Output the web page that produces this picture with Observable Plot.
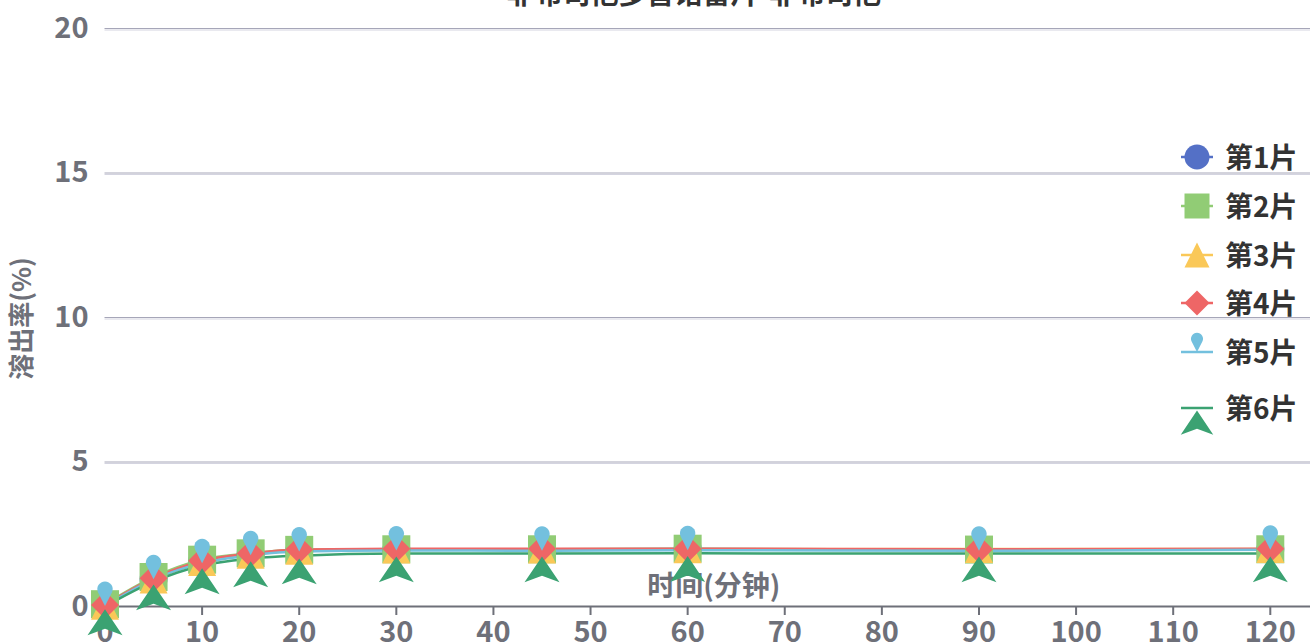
<!DOCTYPE html>
<html><head><meta charset="utf-8">
<script src="https://cdn.jsdelivr.net/npm/d3@7"></script>
<script src="https://cdn.jsdelivr.net/npm/@observablehq/plot@0.6"></script>
<style>
html,body{margin:0;padding:0;background:#fff;overflow:hidden;}
#wrap{position:relative;width:1310px;height:644px;}
#legend{position:absolute;left:0;top:0;pointer-events:none;}
</style></head><body>
<div id="wrap"><div id="chart"></div><svg id="legend" width="1310" height="644"></svg></div>
<script>
// ---- data ----
const title = "非布司他多替诺雷片-非布司他";
const xTitle = "时间(分钟)";
const yTitle = "溶出率(%)";
const times = [0, 5, 10, 15, 20, 30, 45, 60, 90, 120];
const seriesNames = ["第1片", "第2片", "第3片", "第4片", "第5片", "第6片"];
const s1 = [0.05, 0.95, 1.56, 1.80, 1.93, 1.97, 1.97, 1.99, 1.97, 1.98];
const s2 = [0.08, 1.02, 1.62, 1.84, 1.96, 1.98, 1.98, 2.00, 1.97, 1.98];
const s3 = [0.03, 0.93, 1.54, 1.79, 1.93, 1.97, 1.97, 1.98, 1.99, 1.99];
const s4 = [0.05, 0.98, 1.58, 1.83, 1.97, 2.00, 2.00, 2.00, 1.98, 2.00];
const s5 = [0.02, 0.94, 1.50, 1.77, 1.90, 1.94, 1.93, 1.95, 1.93, 1.96];
const s6 = [0.00, 0.86, 1.42, 1.66, 1.76, 1.83, 1.83, 1.84, 1.83, 1.83];
const xTicks = [0, 10, 20, 30, 40, 50, 60, 70, 80, 90, 100, 110, 120];
const yTicks = [0, 5, 10, 15, 20];

// ---- styles ----
const colors = ["#5470c6", "#91cc75", "#fac858", "#ee6666", "#73c0de", "#3ba272"];
const FONT = '"Noto Sans CJK SC","Noto Sans",sans-serif';
const axisColor = "#6E7079";

// custom symbols: r = sqrt(size/PI)
const R = (size) => Math.sqrt(size / Math.PI);
const symCircle = {draw(c, size) { const r = R(size); c.moveTo(r, 0); c.arc(0, 0, r, 0, 2 * Math.PI); c.closePath(); }};
const symRect = {draw(c, size) { const r = R(size); c.rect(-r, -r, 2 * r, 2 * r); }};
const symTriangle = {draw(c, size) { const r = R(size); c.moveTo(0, -r); c.lineTo(r, r); c.lineTo(-r, r); c.closePath(); }};
const symDiamond = {draw(c, size) { const r = R(size); c.moveTo(0, -r); c.lineTo(r, 0); c.lineTo(0, r); c.lineTo(-r, 0); c.closePath(); }};
const symPin = {draw(c, size) {
  const r = R(size); const hc = 1.2 * r, rh = 0.55 * r;
  const phi = Math.acos(rh / hc);
  const a1 = Math.PI / 2 + phi, a2 = Math.PI / 2 - phi + 2 * Math.PI;
  c.moveTo(0, 0);
  c.lineTo(rh * Math.cos(a1), -hc + rh * Math.sin(a1));
  c.arc(0, -hc, rh, a1, a2);
  c.closePath();
}};
const symArrow = {draw(c, size) {
  const r = R(size); const top = 0.2 * r, H = 1.85 * r, hw = 1.25 * r;
  c.moveTo(0, top); c.lineTo(hw, top + H); c.lineTo(0, top + 0.75 * H); c.lineTo(-hw, top + H); c.closePath();
}};
const symbols = [symCircle, symRect, symTriangle, symDiamond, symPin, symArrow];

const allSeries = [s1, s2, s3, s4, s5, s6];
const tables = allSeries.map((vals, i) => times.map((t, j) => ({t, v: vals[j], name: seriesNames[i]})));

const marks = [
  Plot.ruleY(yTicks.slice(1), {stroke: "#a6a6b8", strokeWidth: 1}),
  Plot.ruleY(yTicks.slice(1), {stroke: "#d4d4e0", strokeWidth: 1, dy: 1.5}),
  Plot.ruleY([0], {stroke: axisColor, strokeWidth: 2}),
  Plot.axisX(xTicks, {tickSize: 9, tickPadding: 6, color: axisColor, strokeWidth: 2, fontSize: 29, fontWeight: "bold", label: null}),
  Plot.axisY(yTicks, {tickSize: 0, tickPadding: 16.5, color: axisColor, fontSize: 29, fontWeight: "bold", label: null}),
  Plot.text([xTitle], {frameAnchor: "bottom", lineAnchor: "middle", dx: 6, dy: -19, fontSize: 28, fill: axisColor, fontWeight: "bold"}),
  Plot.text([yTitle], {frameAnchor: "left", textAnchor: "middle", lineAnchor: "middle", dx: -82.5, dy: 1, rotate: -90, fontSize: 26, fill: axisColor, fontWeight: "bold"}),
  Plot.text([title], {frameAnchor: "top", lineAnchor: "middle", dx: -14, dy: -33, fontSize: 28, fill: "#333", fontWeight: "bold"}),
];
tables.forEach((tb, i) => {
  marks.push(Plot.line(tb, {x: "t", y: "v", stroke: colors[i], strokeWidth: 2.5, curve: "monotone-x"}));
});
tables.forEach((tb, i) => {
  marks.push(Plot.dot(tb, {x: "t", y: "v", symbol: symbols[i], r: 14, fill: colors[i], stroke: "none"}));
});

const chart = Plot.plot({
  width: 1310, height: 644,
  marginLeft: 104.5, marginRight: 0, marginTop: 28, marginBottom: 38,
  x: {domain: [0, 124.14]},
  y: {domain: [0, 20]},
  style: {fontFamily: FONT, background: "white", overflow: "hidden"},
  marks
});
document.getElementById("chart").appendChild(chart);

// ---- legend ----
const legendRowY = [157, 206, 255, 303, 352, 408];
const legendR = [12.5, 12.5, 12.5, 12.5, 11, 13];
const lg = d3.select("#legend");
seriesNames.forEach((name, i) => {
  const g = lg.append("g").attr("transform", `translate(1197,${legendRowY[i]})`);
  g.append("line").attr("x1", -16).attr("x2", 16).attr("stroke", colors[i]).attr("stroke-width", 2.5);
  g.append("path").attr("d", d3.symbol(symbols[i], legendR[i] * legendR[i] * Math.PI)()).attr("fill", colors[i]);
  g.append("text").attr("x", 28).attr("y", -1).attr("dominant-baseline", "central")
    .attr("font-family", FONT).attr("font-size", 28).attr("font-weight", "bold").attr("fill", "#333").text(name);
});
</script>
</body></html>
